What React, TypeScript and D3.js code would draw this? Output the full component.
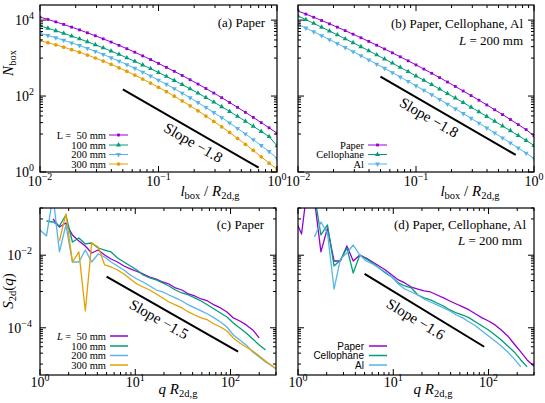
import React from "react";
import * as d3 from "d3";

const SERIF = "'Liberation Serif', 'Times New Roman', serif";
const SANS = "'Liberation Sans', Arial, sans-serif";
const COLORS = ["#9400d3", "#009e73", "#56b4e9", "#e69f00"];

// ---------------- data: box counting ----------------
const boxSizes = [0.01, 0.01166, 0.01359, 0.01585, 0.01848, 0.02154, 0.02512, 0.02929, 0.03415, 0.03981, 0.04642, 0.05412, 0.0631, 0.07356, 0.08577, 0.1, 0.1166, 0.1359, 0.1585, 0.1848, 0.2154, 0.2512, 0.2929, 0.3415, 0.3981, 0.4642, 0.5412, 0.631, 0.7356, 0.8577, 1.0];

const nboxPaper50 = [12023, 10399, 8995, 7691, 6531, 5534, 4634, 3873, 3214, 2642, 2163, 1766, 1426, 1143, 914, 724, 570, 448, 348, 269, 207, 158, 120, 90.6, 67.6, 50.4, 37.3, 27.4, 20.0, 14.6, 10.5];
const nboxPaper100 = [7079, 6116, 5267, 4487, 3807, 3218, 2692, 2241, 1860, 1528, 1249, 1017, 820, 658, 527, 417, 329, 258, 200, 155, 119.5, 91.2, 69.3, 52.4, 39.3, 29.3, 21.8, 16.0, 11.7, 8.54, 4.9];
const nboxPaper200 = [4467, 3916, 3416, 2944, 2516, 2142, 1800, 1502, 1246, 1022, 831, 673, 538, 427, 337, 263, 204, 157, 119, 90.0, 67.6, 50.2, 36.9, 27.1, 19.6, 14.1, 10.1, 7.1, 4.97, 3.47, 2.29];
const nboxPaper300 = [2871, 2541, 2236, 1940, 1668, 1427, 1203, 1005, 834, 683, 554, 447, 356, 280, 220, 170, 130, 98.9, 74.3, 55.3, 40.9, 29.8, 21.5, 15.5, 11.0, 7.7, 5.37, 3.7, 2.52, 1.71, 1.2];

const nboxPaperB = [17378, 14383, 11898, 9763, 7977, 6516, 5279, 4258, 3431, 2744, 2185, 1739, 1373, 1079, 848, 661, 513, 398, 306, 234, 179, 136, 103, 77.9, 58.4, 43.6, 32.5, 24.1, 17.7, 13.1, 8.9];
const nboxCelloB = [12882, 10278, 8209, 6516, 5160, 4090, 3221, 2531, 1991, 1556, 1213, 947, 735, 568, 440, 339, 260, 200, 153, 116, 88.8, 67.3, 50.9, 38.5, 29.0, 21.8, 16.3, 12.2, 9.08, 6.77, 5.0];
const nboxAlB = [7762, 6171, 4914, 3884, 3060, 2415, 1891, 1477, 1155, 897, 694, 538, 414, 318, 244, 186, 142, 108, 81.5, 61.4, 46.4, 34.7, 26.0, 19.4, 14.4, 10.7, 7.91, 5.82, 4.27, 3.14, 2.29];

const legendA = ["L =  50 mm", "100 mm", "200 mm", "300 mm"];
const legendB = ["Paper", "Cellophane", "Al"];

// ---------------- data: structure factor ----------------
const qGridC = [0.86, 1.0, 1.17, 1.37, 1.6, 1.87, 2.19, 2.56, 2.99, 3.49, 4.08, 4.77, 5.57, 6.51, 7.6, 8.88, 10.4, 12.1, 14.2, 16.6, 19.4, 22.6, 26.4, 30.9, 36.1, 42.1, 49.2, 57.5, 67.2, 78.5, 91.7, 107, 125, 146, 171, 200, 233, 273, 318];

const sPaper50 = [null, null, null, 9.95e-2, 6.0e-2, 7.73e-2, 3.61e-2, 2.47e-2, 1.8e-2, 1.15e-2, 1.39e-2, 1.01e-2, 7.87e-3, 6.5e-3, 5.05e-3, 4.18e-3, 3.56e-3, 3.04e-3, 2.51e-3, 2.21e-3, 1.83e-3, 1.61e-3, 1.25e-3, 1.1e-3, 8.55e-4, 7.53e-4, 6.22e-4, 5.48e-4, 4.26e-4, 3.52e-4, 2.73e-4, 1.87e-4, 1.54e-4, 1.2e-4, 8.71e-5, 5.25e-5, null, null, null];
const sPaper100 = [null, null, 8.77e-2, 8.22e-2, 6.38e-2, 1.28e-1, 2.31e-2, 2.99e-2, 2.04e-2, 2.17e-2, 1.58e-2, 1.39e-2, 1.23e-2, 8.39e-3, 6.5e-3, 5.05e-3, 3.92e-3, 2.85e-3, 2.36e-3, 2.08e-3, 1.72e-3, 1.42e-3, 1.1e-3, 9.1e-4, 8.02e-4, 6.64e-4, 5.48e-4, 4.26e-4, 3.3e-4, 2.56e-4, 1.99e-4, 1.36e-4, 9.89e-5, 7.2e-5, 4.92e-5, 3.37e-5, 2.45e-5, null, null];
const sPaper200 = [0.128, 4.95e-2, 3.39e-2, 0.428, 1.23e-2, 6.81e-2, 6.5e-3, 6.5e-3, 1.39e-2, 6.5e-3, 1.08e-2, 8.93e-3, 6.5e-3, 5.05e-3, 3.92e-3, 2.85e-3, 2.21e-3, 1.83e-3, 1.42e-3, 1.1e-3, 9.7e-4, 8.02e-4, 6.64e-4, 5.48e-4, 4.26e-4, 3.52e-4, 2.91e-4, 2.4e-4, 1.87e-4, 1.45e-4, 1.05e-4, 6.34e-5, 4.62e-5, 3.37e-5, 2.16e-5, 1.57e-5, 1.15e-5, 8.87e-6, 6.89e-6];
const sPaper300 = [null, null, null, null, 2.47e-2, 0.137, 6.5e-3, 1.23e-2, 2.91e-4, 2.17e-2, 1.69e-2, 5.38e-3, 4.74e-3, 3.92e-3, 3.04e-3, 2.21e-3, 1.61e-3, 1.33e-3, 1.1e-3, 8.55e-4, 6.64e-4, 5.14e-4, 4.26e-4, 3.52e-4, 2.73e-4, 2.25e-4, 1.87e-4, 1.64e-4, 1.27e-4, 1.05e-4, 8.18e-5, 5.25e-5, 3.82e-5, 2.96e-5, 2.3e-5, 1.67e-5, 1.22e-5, 8.87e-6, 6.47e-6];

const qGridD = [0.94, 1.09, 1.28, 1.49, 1.74, 2.04, 2.39, 2.79, 3.26, 3.8, 4.45, 5.2, 6.07, 7.1, 8.28, 9.68, 11.3, 13.2, 15.5, 18.1, 21.1, 24.6, 28.8, 33.7, 39.3, 45.9, 53.6, 62.7, 73.3, 85.6, 100, 117, 136, 159, 186, 218, 254, 298];

const sPaperD = [9.33e-2, 3.85e-2, 1.18, 0.332, 1.23e-2, 5.62e-2, 6.93e-3, 6.93e-3, 1.8e-2, 6.93e-3, 1.01e-2, 8.39e-3, 6.5e-3, 5.05e-3, 3.92e-3, 2.85e-3, 2.08e-3, 1.72e-3, 1.33e-3, 1.17e-3, 1.04e-3, 9.7e-4, 8.02e-4, 6.64e-4, 5.48e-4, 4.53e-4, 3.75e-4, 3.1e-4, 2.4e-4, 1.87e-4, 1.54e-4, 1.2e-4, 8.71e-5, 5.96e-5, 3.58e-5, 2.16e-5, 1.3e-5, 8.87e-6];
const sCelloD = [null, null, 7.93, 0.456, 3.61e-2, 6.81e-2, 5.05e-3, 7.38e-3, 1.58e-2, 3.24e-3, 1.01e-2, 7.87e-3, 6.11e-3, 4.45e-3, 3.24e-3, 2.51e-3, 1.72e-3, 1.42e-3, 1.25e-3, 8.02e-4, 6.64e-4, 5.85e-4, 4.83e-4, 3.99e-4, 3.1e-4, 2.56e-4, 2.25e-4, 1.87e-4, 1.45e-4, 1.12e-4, 8.71e-5, 6.34e-5, 4.62e-5, 3.16e-5, 2.16e-5, 1.3e-5, 8.34e-6, null];
const sAlD = [null, null, null, 3.18e-2, 8.22e-2, 4.09e-2, 1.17e-3, 7.87e-3, 1.15e-2, 1.91e-2, 1.01e-2, 6.93e-3, 5.73e-3, 4.45e-3, 3.45e-3, 2.51e-3, 1.61e-3, 1.17e-3, 9.7e-4, 8.02e-4, 6.22e-4, 5.14e-4, 4.26e-4, 3.52e-4, 2.91e-4, 2.25e-4, 1.87e-4, 1.45e-4, 1.12e-4, 8.18e-5, 5.96e-5, 4.34e-5, 3.16e-5, 2.16e-5, 1.39e-5, 8.34e-6, null, null];

// reference slope segments (data coordinates)
const slopeAx = [0.05, 0.7], slopeAy = [150, 1.3];
const slopeBx = [0.05, 0.7], slopeBy = [325, 2.81];
const slopeCx = [5, 120], slopeCy = [2.57e-3, 2.19e-5];
const slopeDx = [5, 90], slopeDy = [3.04e-3, 3.0e-5];

// ---------------- layout ----------------
type Box = { l: number; r: number; t: number; b: number };
const boxA: Box = { l: 40, r: 277, t: 5, b: 172 };
const boxB: Box = { l: 298, r: 534, t: 5, b: 172 };
const boxC: Box = { l: 40, r: 276, t: 208, b: 375 };
const boxD: Box = { l: 298, r: 534, t: 208, b: 375 };

const decadeMinor = (k0: number, k1: number) => {
  const out: number[] = [];
  for (let k = k0; k <= k1; k++) for (let m = 2; m <= 9; m++) out.push(m * Math.pow(10, k));
  return out;
};
const clusterMinor = (ks: number[]) => {
  const out: number[] = [];
  ks.forEach((k) => { for (let m = 1; m <= 9; m++) out.push(m * Math.pow(10, k)); });
  return out;
};

function Frame({ box, xs, ys, xMajor, xMinor, yMajor, yMinor }: any) {
  const els: any[] = [];
  const ML = 6, mL = 3;
  const inX = (v: number) => { const x = xs(v); return x >= box.l - 0.01 && x <= box.r + 0.01; };
  const inY = (v: number) => { const y = ys(v); return y >= box.t - 0.01 && y <= box.b + 0.01; };
  xMajor.filter(inX).forEach((v: number, i: number) => {
    const x = xs(v);
    els.push(<line key={"xM" + i} x1={x} x2={x} y1={box.b} y2={box.b - ML} />);
    els.push(<line key={"xMt" + i} x1={x} x2={x} y1={box.t} y2={box.t + ML} />);
  });
  xMinor.filter(inX).forEach((v: number, i: number) => {
    const x = xs(v);
    els.push(<line key={"xm" + i} x1={x} x2={x} y1={box.b} y2={box.b - mL} />);
    els.push(<line key={"xmt" + i} x1={x} x2={x} y1={box.t} y2={box.t + mL} />);
  });
  yMajor.filter(inY).forEach((v: number, i: number) => {
    const y = ys(v);
    els.push(<line key={"yM" + i} x1={box.l} x2={box.l + ML} y1={y} y2={y} />);
    els.push(<line key={"yMr" + i} x1={box.r} x2={box.r - ML} y1={y} y2={y} />);
  });
  yMinor.filter(inY).forEach((v: number, i: number) => {
    const y = ys(v);
    els.push(<line key={"ym" + i} x1={box.l} x2={box.l + mL} y1={y} y2={y} />);
    els.push(<line key={"ymr" + i} x1={box.r} x2={box.r - mL} y1={y} y2={y} />);
  });
  return (
    <g stroke="#000" strokeWidth={1} fill="none">
      {els}
      <rect x={box.l} y={box.t} width={box.r - box.l} height={box.b - box.t} strokeWidth={1.2} />
    </g>
  );
}

function PowLabel({ x, y, exp, anchor }: any) {
  return (
    <text x={x} y={y} textAnchor={anchor} fontFamily={SERIF} fontSize={14} fill="#000">
      10<tspan dy={-6} fontSize={10}>{exp}</tspan>
    </text>
  );
}

const expStr = (v: number) => {
  const e = Math.round(Math.log10(v));
  return e < 0 ? "\u2212" + Math.abs(e) : String(e);
};

function Marker({ kind, x, y, color }: any) {
  let sym: any = d3.symbolSquare, size = 8, rot = 0;
  if (kind === 1) { sym = d3.symbolTriangle; size = 11; }
  if (kind === 2) { sym = d3.symbolTriangle; size = 11; rot = 180; }
  if (kind === 3) { sym = d3.symbolCircle; size = 11; }
  const p = d3.symbol(sym, size)() as string;
  return <path d={p} transform={`translate(${x},${y}) rotate(${rot})`} fill={color} stroke="none" />;
}

function SlopeLine({ xs, ys, sx, sy, t, off, label }: any) {
  const x1 = xs(sx[0]), y1 = ys(sy[0]), x2 = xs(sx[1]), y2 = ys(sy[1]);
  const dx = x2 - x1, dy = y2 - y1, len = Math.hypot(dx, dy);
  const ux = dx / len, uy = dy / len;
  const cx = x1 + dx * t - uy * off, cy = y1 + dy * t + ux * off;
  const ang = (Math.atan2(dy, dx) * 180) / Math.PI;
  return (
    <g>
      <line x1={x1} y1={y1} x2={x2} y2={y2} stroke="#000" strokeWidth={2} />
      <text transform={`translate(${cx},${cy}) rotate(${ang})`} textAnchor="middle" dominantBaseline="central" fontFamily={SERIF} fontSize={15} fill="#000">
        {label}
      </text>
    </g>
  );
}

export default function App() {
  const xA = d3.scaleLog().domain([0.01, 1]).range([boxA.l, boxA.r]);
  const yA = d3.scaleLog().domain([1, 25000]).range([boxA.b, boxA.t]);
  const xB = d3.scaleLog().domain([0.01, 1]).range([boxB.l, boxB.r]);
  const yB = d3.scaleLog().domain([1, 25000]).range([boxB.b, boxB.t]);
  const xC = d3.scaleLog().domain([1, 300]).range([boxC.l, boxC.r]);
  const yC = d3.scaleLog().domain([5e-6, 0.2]).range([boxC.b, boxC.t]);
  const xD = d3.scaleLog().domain([1, 300]).range([boxD.l, boxD.r]);
  const yD = d3.scaleLog().domain([5e-6, 0.2]).range([boxD.b, boxD.t]);

  const xMajAB = [0.01, 0.1, 1];
  const xMinAB = decadeMinor(-2, -1);
  const yMajAB = [1, 100, 10000];
  const yMinAB = clusterMinor([1, 3]);
  const xMajCD = [1, 10, 100];
  const xMinCD = decadeMinor(0, 2);
  const yMajCD = [1e-6, 1e-4, 1e-2, 1];
  const yMinCD = clusterMinor([-5, -3, -1]);

  const boxLine = (xs: any, ys: any, vals: number[]) =>
    (d3.line<number>().x((_, i) => xs(boxSizes[i])).y((v) => ys(v)))(vals) as string;
  const sLine = (xs: any, ys: any, grid: number[], vals: (number | null)[]) =>
    (d3.line<any>().defined((v) => v != null).x((_, i) => xs(grid[i])).y((v) => ys(v)))(vals) as string;

  const seriesA = [nboxPaper50, nboxPaper100, nboxPaper200, nboxPaper300];
  const seriesB = [nboxPaperB, nboxCelloB, nboxAlB];
  const seriesC = [sPaper50, sPaper100, sPaper200, sPaper300];
  const seriesD = [sPaperD, sCelloD, sAlD];

  const clip = (id: string, b: Box) => (
    <clipPath id={id}><rect x={b.l} y={b.t} width={b.r - b.l} height={b.b - b.t} /></clipPath>
  );

  const legRowsA = [135, 145, 154.5, 164];
  const legRowsB = [145, 154.5, 164];
  const legRowsC = [336, 346, 355.5, 365];
  const legRowsD = [346, 355.5, 365];

  return (
    <svg width={545} height={403} style={{ position: "absolute", left: 0, top: 0, background: "#fff" }}>
      <defs>
        {clip("cA", boxA)}{clip("cB", boxB)}{clip("cC", boxC)}{clip("cD", boxD)}
      </defs>
      <rect x={0} y={0} width={545} height={403} fill="#fff" />

      {/* ---------- panel (a) ---------- */}
      <g clipPath="url(#cA)">
        {seriesA.map((s, k) => (
          <g key={k}>
            <path d={boxLine(xA, yA, s)} fill="none" stroke={COLORS[k]} strokeWidth={1} />
            {s.map((v, i) => <Marker key={i} kind={k} x={xA(boxSizes[i])} y={yA(v)} color={COLORS[k]} />)}
          </g>
        ))}
      </g>
      <SlopeLine xs={xA} ys={yA} sx={slopeAx} sy={slopeAy} t={0.56} off={11} label="Slope −1.8" />
      <Frame box={boxA} xs={xA} ys={yA} xMajor={xMajAB} xMinor={xMinAB} yMajor={yMajAB} yMinor={yMinAB} />
      {xMajAB.map((v) => <PowLabel key={v} x={xA(v)} y={186} exp={expStr(v)} anchor="middle" />)}
      {yMajAB.map((v) => <PowLabel key={v} x={34} y={yA(v) + 5} exp={expStr(v)} anchor="end" />)}
      <text x={265} y={27} textAnchor="end" fontFamily={SERIF} fontSize={13}>(a) Paper</text>
      {legendA.map((lab, k) => (
        <g key={k}>
          <text x={106} y={legRowsA[k] + 3.5} textAnchor="end" fontFamily={SERIF} fontSize={10.5} style={{ whiteSpace: "pre" }}>{lab}</text>
          <line x1={109} x2={128} y1={legRowsA[k]} y2={legRowsA[k]} stroke={COLORS[k]} strokeWidth={1} />
          <Marker kind={k} x={118.5} y={legRowsA[k]} color={COLORS[k]} />
        </g>
      ))}
      <text x={210} y={196} textAnchor="middle" fontFamily={SERIF} fontSize={15}>
        <tspan fontStyle="italic">l</tspan><tspan fontSize={10.5} dy={3}>box</tspan><tspan dy={-3}> / </tspan><tspan fontStyle="italic">R</tspan><tspan fontSize={10.5} dy={3}>2d,g</tspan>
      </text>
      <text transform="translate(13,63) rotate(-90)" textAnchor="middle" fontFamily={SERIF} fontSize={15}>
        <tspan fontStyle="italic">N</tspan><tspan fontSize={10.5} dy={3}>box</tspan>
      </text>

      {/* ---------- panel (b) ---------- */}
      <g clipPath="url(#cB)">
        {seriesB.map((s, k) => (
          <g key={k}>
            <path d={boxLine(xB, yB, s)} fill="none" stroke={COLORS[k]} strokeWidth={1} />
            {s.map((v, i) => <Marker key={i} kind={k} x={xB(boxSizes[i])} y={yB(v)} color={COLORS[k]} />)}
          </g>
        ))}
      </g>
      <SlopeLine xs={xB} ys={yB} sx={slopeBx} sy={slopeBy} t={0.4} off={11} label="Slope −1.8" />
      <Frame box={boxB} xs={xB} ys={yB} xMajor={xMajAB} xMinor={xMinAB} yMajor={yMajAB} yMinor={yMinAB} />
      {xMajAB.map((v) => <PowLabel key={v} x={xB(v)} y={186} exp={expStr(v)} anchor="middle" />)}
      <text x={523} y={28} textAnchor="end" fontFamily={SERIF} fontSize={13}>(b) Paper, Cellophane, Al</text>
      <text x={523} y={45} textAnchor="end" fontFamily={SERIF} fontSize={13}>
        <tspan fontStyle="italic">L</tspan> = 200 mm
      </text>
      {legendB.map((lab, k) => (
        <g key={k}>
          <text x={364} y={legRowsB[k] + 3.5} textAnchor="end" fontFamily={SERIF} fontSize={10.5}>{lab}</text>
          <line x1={368} x2={387} y1={legRowsB[k]} y2={legRowsB[k]} stroke={COLORS[k]} strokeWidth={1} />
          <Marker kind={k} x={377.5} y={legRowsB[k]} color={COLORS[k]} />
        </g>
      ))}
      <text x={470} y={196} textAnchor="middle" fontFamily={SERIF} fontSize={15}>
        <tspan fontStyle="italic">l</tspan><tspan fontSize={10.5} dy={3}>box</tspan><tspan dy={-3}> / </tspan><tspan fontStyle="italic">R</tspan><tspan fontSize={10.5} dy={3}>2d,g</tspan>
      </text>

      {/* ---------- panel (c) ---------- */}
      <g clipPath="url(#cC)">
        {seriesC.map((s, k) => (
          <path key={k} d={sLine(xC, yC, qGridC, s)} fill="none" stroke={COLORS[k]} strokeWidth={1.3} strokeLinejoin="round" />
        ))}
      </g>
      <SlopeLine xs={xC} ys={yC} sx={slopeCx} sy={slopeCy} t={0.44} off={11} label="Slope −1.5" />
      <Frame box={boxC} xs={xC} ys={yC} xMajor={xMajCD} xMinor={xMinCD} yMajor={yMajCD} yMinor={yMinCD} />
      {xMajCD.map((v) => <PowLabel key={v} x={xC(v)} y={387} exp={expStr(v)} anchor="middle" />)}
      {[1e-4, 1e-2].map((v) => <PowLabel key={v} x={32} y={yC(v) + 5} exp={expStr(v)} anchor="end" />)}
      <text x={264} y={229} textAnchor="end" fontFamily={SERIF} fontSize={13}>(c) Paper</text>
      {legendA.map((lab, k) => (
        <g key={k}>
          <text x={106} y={legRowsC[k] + 3.5} textAnchor="end" fontFamily={SERIF} fontSize={10.5} style={{ whiteSpace: "pre" }}>
            {k === 0 ? <><tspan fontStyle="italic">L</tspan>{lab.slice(1)}</> : lab}
          </text>
          <line x1={110} x2={128} y1={legRowsC[k]} y2={legRowsC[k]} stroke={COLORS[k]} strokeWidth={1.5} />
        </g>
      ))}
      <text x={178} y={394} textAnchor="middle" fontFamily={SERIF} fontSize={15}>
        <tspan fontStyle="italic">q R</tspan><tspan fontSize={10.5} dy={3}>2d,g</tspan>
      </text>
      <text transform="translate(13,291) rotate(-90)" textAnchor="middle" fontFamily={SERIF} fontSize={15}>
        <tspan fontStyle="italic">S</tspan><tspan fontSize={10.5} dy={3}>2d</tspan><tspan dy={-3}>(</tspan><tspan fontStyle="italic">q</tspan><tspan>)</tspan>
      </text>

      {/* ---------- panel (d) ---------- */}
      <g clipPath="url(#cD)">
        {seriesD.map((s, k) => (
          <path key={k} d={sLine(xD, yD, qGridD, s)} fill="none" stroke={COLORS[k]} strokeWidth={1.3} strokeLinejoin="round" />
        ))}
      </g>
      <SlopeLine xs={xD} ys={yD} sx={slopeDx} sy={slopeDy} t={0.48} off={12} label="Slope −1.6" />
      <Frame box={boxD} xs={xD} ys={yD} xMajor={xMajCD} xMinor={xMinCD} yMajor={yMajCD} yMinor={yMinCD} />
      {xMajCD.map((v) => <PowLabel key={v} x={xD(v)} y={387} exp={expStr(v)} anchor="middle" />)}
      <text x={526} y={229} textAnchor="end" fontFamily={SERIF} fontSize={13}>(d) Paper, Cellophane, Al</text>
      <text x={522} y={245} textAnchor="end" fontFamily={SERIF} fontSize={13}>
        <tspan fontStyle="italic">L</tspan> = 200 mm
      </text>
      {legendB.map((lab, k) => (
        <g key={k}>
          <text x={364} y={legRowsD[k] + 3.5} textAnchor="end" fontFamily={SANS} fontSize={10}>{lab}</text>
          <line x1={369} x2={387} y1={legRowsD[k]} y2={legRowsD[k]} stroke={COLORS[k]} strokeWidth={1.5} />
        </g>
      ))}
      <text x={433} y={394} textAnchor="middle" fontFamily={SERIF} fontSize={15}>
        <tspan fontStyle="italic">q R</tspan><tspan fontSize={10.5} dy={3}>2d,g</tspan>
      </text>
    </svg>
  );
}
